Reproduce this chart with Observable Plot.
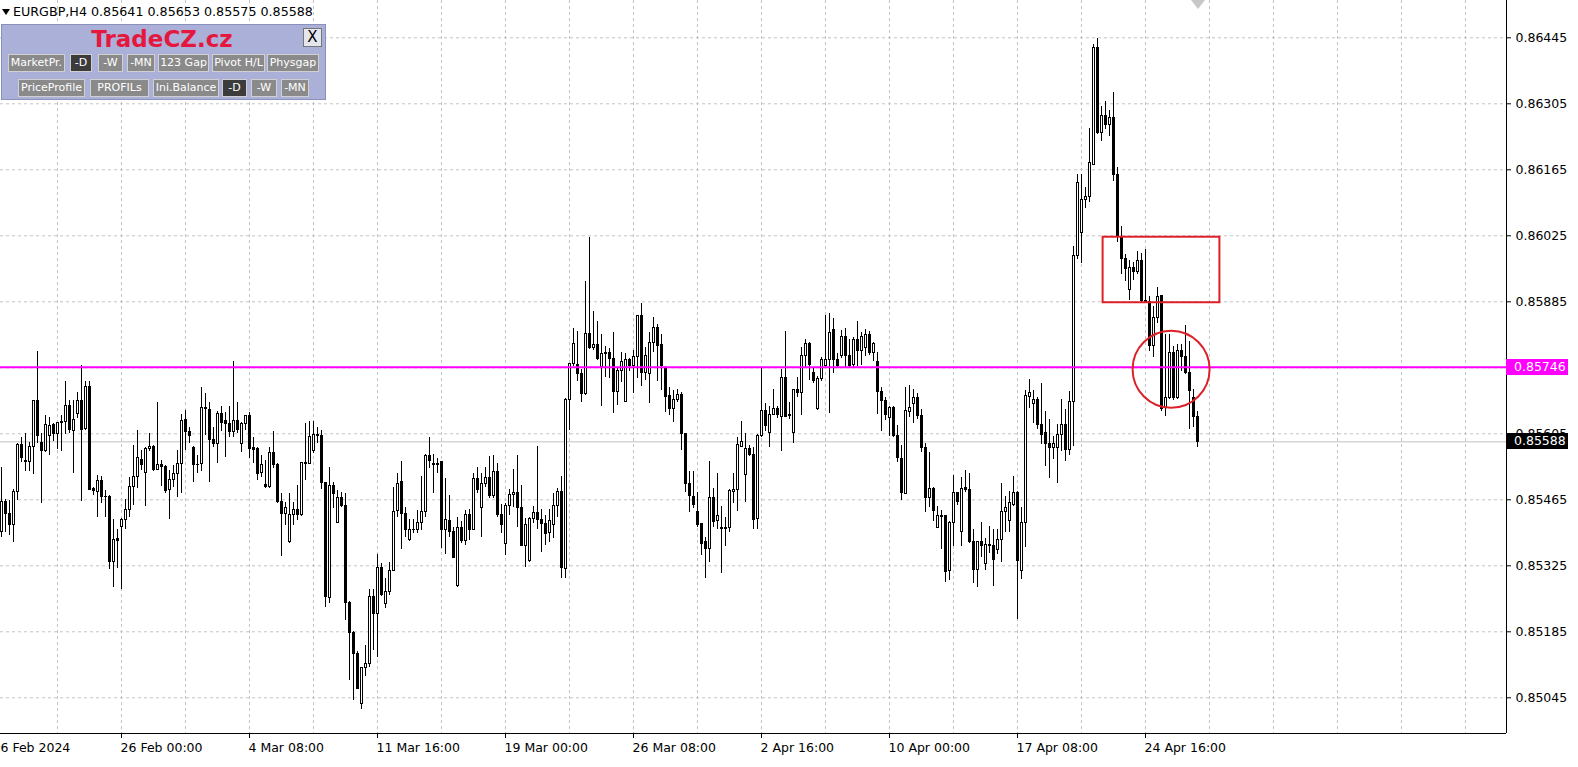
<!DOCTYPE html>
<html><head><meta charset="utf-8">
<script src="https://cdn.jsdelivr.net/npm/d3@7"></script>
<script src="https://cdn.jsdelivr.net/npm/@observablehq/plot@0.6"></script>
<style>
html,body{margin:0;padding:0;background:#fff;}
#wrap{position:relative;width:1578px;height:767px;overflow:hidden;font-family:"DejaVu Sans",sans-serif;}
#wrap svg{position:absolute;left:0;top:0;}
.ov{position:absolute;white-space:nowrap;}
#header{left:13px;top:4px;font-size:12.7px;color:#000;line-height:16px;}
#tri{left:2px;top:9px;width:0;height:0;border-left:4px solid transparent;border-right:4px solid transparent;border-top:6px solid #000;}
#shift{left:1191px;top:0px;width:0;height:0;border-left:7px solid transparent;border-right:7px solid transparent;border-top:9px solid #c8c8c8;}
#panel{left:1px;top:24px;width:325px;height:76px;background:#aab0d8;border:1px solid #8a90bc;box-sizing:border-box;}
#panel .brand{position:absolute;left:60px;top:1px;width:200px;text-align:center;font-weight:bold;font-size:23px;color:#e5173f;line-height:26px;}
#panel .xb{position:absolute;left:301px;top:3px;width:19px;height:19px;background:#e6e6ee;border:1px solid #777;box-sizing:border-box;font-size:15px;line-height:17px;text-align:center;color:#000;}
#panel .b{position:absolute;height:18px;background:#8a8a8a;border:1px solid #d0d0d0;box-sizing:border-box;color:#fff;font-size:11px;line-height:16px;text-align:center;overflow:hidden;}
#panel .b.d{background:#3c3c3c;}
.pbox{position:absolute;left:1506px;width:62px;height:16px;color:#fff;font-size:12.5px;line-height:16px;padding-left:8px;box-sizing:border-box;}
</style></head><body><div id="wrap"></div>
<script>
// ---- EURGBP H4 candles, bar 0 = Mon 19 Feb 2024 00:00 ----
const open = [
0.85396,0.85460,0.85435,0.85412,0.85481,0.85582,0.85548,0.85545,0.85577,0.85674,
0.85586,0.85568,0.85600,0.85623,0.85605,0.85628,0.85631,0.85663,0.85612,0.85647,
0.85674,0.85616,0.85704,0.85488,0.85481,0.85504,0.85472,0.85471,0.85333,0.85381,
0.85407,0.85423,0.85444,0.85493,0.85514,0.85550,0.85522,0.85572,0.85578,0.85529,
0.85539,0.85534,0.85486,0.85506,0.85520,0.85541,0.85635,0.85609,0.85575,0.85539,
0.85541,0.85660,0.85656,0.85592,0.85584,0.85646,0.85632,0.85625,0.85609,0.85632,
0.85584,0.85625,0.85642,0.85575,0.85573,0.85522,0.85497,0.85493,0.85565,0.85539,
0.85460,0.85435,0.85375,0.85433,0.85444,0.85432,0.85543,0.85542,0.85568,0.85603,
0.85600,0.85500,0.85257,0.85495,0.85416,0.85469,0.85452,0.85247,0.85183,0.85138,
0.85032,0.85109,0.85116,0.85259,0.85222,0.85321,0.85244,0.85269,0.85315,0.85442,
0.85502,0.85435,0.85379,0.85400,0.85401,0.85415,0.85440,0.85557,0.85541,0.85538,
0.85545,0.85400,0.85421,0.85396,0.85282,0.85406,0.85377,0.85432,0.85401,0.85510,
0.85448,0.85499,0.85512,0.85473,0.85524,0.85432,0.85372,0.85451,0.85476,0.85480,
0.85447,0.85366,0.85335,0.85425,0.85437,0.85423,0.85414,0.85395,0.85412,0.85452,
0.85481,0.85319,0.85677,0.85753,0.85752,0.85732,0.85690,0.85817,0.85787,0.85794,
0.85746,0.85775,0.85777,0.85764,0.85693,0.85739,0.85672,0.85762,0.85748,0.85768,
0.85854,0.85734,0.85732,0.85797,0.85830,0.85794,0.85744,0.85685,0.85657,0.85676,
0.85688,0.85604,0.85499,0.85471,0.85440,0.85413,0.85375,0.85361,0.85469,0.85420,
0.85406,0.85403,0.85406,0.85481,0.85486,0.85578,0.85518,0.85573,0.85561,0.85425,
0.85601,0.85654,0.85606,0.85645,0.85657,0.85640,0.85724,0.85645,0.85606,0.85697,
0.85691,0.85771,0.85796,0.85734,0.85658,0.85722,0.85748,0.85761,0.85826,0.85762,
0.85769,0.85811,0.85769,0.85751,0.85804,0.85780,0.85787,0.85814,0.85776,0.85758,
0.85693,0.85674,0.85639,0.85659,0.85601,0.85552,0.85478,0.85651,0.85669,0.85681,
0.85642,0.85575,0.85469,0.85487,0.85406,0.85428,0.85430,0.85315,0.85416,0.85479,
0.85396,0.85490,0.85486,0.85375,0.85317,0.85375,0.85329,0.85370,0.85366,0.85358,
0.85379,0.85439,0.85419,0.85453,0.85480,0.85315,0.85415,0.85684,0.85669,0.85677,
0.85624,0.85607,0.85583,0.85575,0.85575,0.85603,0.85624,0.85571,0.85672,0.85983,
0.86032,0.86101,0.86107,0.86176,0.86423,0.86243,0.86280,0.86260,0.86275,0.86155,
0.86021,0.85975,0.85909,0.85956,0.85949,0.85971,0.85886,0.85885,0.85791,0.85850,
0.85897,0.85660,0.85681,0.85777,0.85681,0.85780,0.85768,0.85734,0.85680,0.85641];
const high = [
0.85534,0.85465,0.85464,0.85486,0.85584,0.85597,0.85606,0.85587,0.85676,0.85780,
0.85605,0.85644,0.85639,0.85626,0.85630,0.85644,0.85716,0.85676,0.85676,0.85693,
0.85750,0.85715,0.85715,0.85492,0.85517,0.85514,0.85485,0.85474,0.85423,0.85403,
0.85425,0.85465,0.85513,0.85580,0.85612,0.85570,0.85577,0.85606,0.85580,0.85672,
0.85548,0.85538,0.85527,0.85538,0.85570,0.85647,0.85654,0.85619,0.85578,0.85560,
0.85703,0.85691,0.85672,0.85619,0.85652,0.85662,0.85651,0.85663,0.85759,0.85672,
0.85628,0.85644,0.85651,0.85597,0.85575,0.85559,0.85548,0.85577,0.85609,0.85541,
0.85478,0.85460,0.85479,0.85460,0.85495,0.85545,0.85626,0.85631,0.85631,0.85619,
0.85611,0.85502,0.85533,0.85502,0.85485,0.85481,0.85479,0.85249,0.85185,0.85144,
0.85110,0.85156,0.85274,0.85274,0.85350,0.85329,0.85297,0.85331,0.85492,0.85520,
0.85547,0.85449,0.85423,0.85423,0.85442,0.85515,0.85561,0.85597,0.85561,0.85552,
0.85546,0.85510,0.85474,0.85407,0.85427,0.85418,0.85442,0.85444,0.85520,0.85533,
0.85520,0.85533,0.85557,0.85559,0.85541,0.85455,0.85458,0.85486,0.85529,0.85559,
0.85495,0.85425,0.85427,0.85451,0.85578,0.85444,0.85432,0.85444,0.85479,0.85488,
0.85515,0.85679,0.85755,0.85828,0.85821,0.85741,0.85929,0.86022,0.85865,0.85844,
0.85815,0.85790,0.85787,0.85819,0.85743,0.85777,0.85775,0.85765,0.85782,0.85856,
0.85881,0.85789,0.85819,0.85851,0.85837,0.85815,0.85748,0.85704,0.85697,0.85700,
0.85692,0.85605,0.85524,0.85524,0.85481,0.85414,0.85386,0.85546,0.85488,0.85520,
0.85451,0.85427,0.85486,0.85520,0.85598,0.85632,0.85606,0.85580,0.85577,0.85603,
0.85746,0.85669,0.85663,0.85700,0.85662,0.85741,0.85822,0.85672,0.85698,0.85724,
0.85789,0.85804,0.85799,0.85743,0.85727,0.85766,0.85856,0.85861,0.85849,0.85775,
0.85824,0.85828,0.85804,0.85809,0.85844,0.85819,0.85826,0.85821,0.85799,0.85778,
0.85704,0.85683,0.85663,0.85662,0.85623,0.85580,0.85704,0.85708,0.85698,0.85690,
0.85656,0.85584,0.85566,0.85492,0.85451,0.85442,0.85432,0.85418,0.85517,0.85481,
0.85513,0.85527,0.85520,0.85401,0.85377,0.85416,0.85382,0.85409,0.85401,0.85401,
0.85499,0.85471,0.85483,0.85515,0.85482,0.85448,0.85696,0.85720,0.85696,0.85683,
0.85711,0.85653,0.85635,0.85600,0.85624,0.85677,0.85656,0.85695,0.86003,0.86155,
0.86155,0.86128,0.86253,0.86431,0.86443,0.86300,0.86310,0.86290,0.86330,0.86170,
0.86045,0.85985,0.85973,0.85968,0.85992,0.85987,0.85996,0.85897,0.85876,0.85916,
0.85898,0.85816,0.85816,0.85790,0.85794,0.85794,0.85835,0.85801,0.85700,0.85653];
const low = [
0.85384,0.85396,0.85389,0.85374,0.85464,0.85545,0.85524,0.85524,0.85518,0.85584,
0.85457,0.85566,0.85558,0.85589,0.85571,0.85568,0.85603,0.85605,0.85520,0.85637,
0.85462,0.85613,0.85485,0.85474,0.85428,0.85458,0.85428,0.85317,0.85280,0.85319,
0.85275,0.85403,0.85428,0.85453,0.85488,0.85527,0.85451,0.85568,0.85524,0.85527,
0.85493,0.85478,0.85423,0.85492,0.85469,0.85479,0.85570,0.85584,0.85502,0.85520,
0.85524,0.85601,0.85502,0.85577,0.85541,0.85609,0.85555,0.85597,0.85597,0.85605,
0.85566,0.85612,0.85552,0.85541,0.85507,0.85513,0.85490,0.85490,0.85531,0.85457,
0.85345,0.85411,0.85372,0.85411,0.85421,0.85430,0.85506,0.85540,0.85564,0.85584,
0.85486,0.85237,0.85244,0.85446,0.85414,0.85449,0.85209,0.85082,0.85039,0.85062,
0.85020,0.85091,0.85110,0.85145,0.85131,0.85259,0.85234,0.85262,0.85312,0.85427,
0.85359,0.85386,0.85377,0.85393,0.85393,0.85400,0.85427,0.85531,0.85479,0.85520,
0.85361,0.85348,0.85386,0.85340,0.85280,0.85373,0.85368,0.85379,0.85400,0.85479,
0.85386,0.85492,0.85467,0.85467,0.85428,0.85394,0.85347,0.85432,0.85449,0.85407,
0.85365,0.85321,0.85333,0.85414,0.85403,0.85354,0.85368,0.85375,0.85382,0.85428,
0.85297,0.85297,0.85613,0.85748,0.85715,0.85672,0.85686,0.85783,0.85782,0.85761,
0.85662,0.85725,0.85722,0.85649,0.85664,0.85713,0.85671,0.85737,0.85690,0.85722,
0.85706,0.85718,0.85669,0.85777,0.85716,0.85697,0.85650,0.85644,0.85628,0.85672,
0.85570,0.85480,0.85439,0.85446,0.85407,0.85347,0.85297,0.85333,0.85407,0.85403,
0.85309,0.85366,0.85396,0.85458,0.85441,0.85577,0.85460,0.85557,0.85401,0.85403,
0.85598,0.85609,0.85575,0.85644,0.85637,0.85568,0.85639,0.85635,0.85585,0.85683,
0.85644,0.85746,0.85718,0.85711,0.85654,0.85715,0.85745,0.85649,0.85732,0.85743,
0.85764,0.85746,0.85746,0.85743,0.85748,0.85750,0.85768,0.85771,0.85759,0.85647,
0.85610,0.85633,0.85599,0.85598,0.85545,0.85464,0.85476,0.85640,0.85626,0.85635,
0.85566,0.85439,0.85449,0.85418,0.85404,0.85359,0.85290,0.85294,0.85365,0.85453,
0.85365,0.85481,0.85373,0.85287,0.85280,0.85343,0.85315,0.85352,0.85282,0.85350,
0.85331,0.85395,0.85395,0.85451,0.85211,0.85295,0.85363,0.85659,0.85627,0.85615,
0.85583,0.85536,0.85511,0.85551,0.85499,0.85567,0.85547,0.85560,0.85579,0.85975,
0.85967,0.86083,0.86095,0.86176,0.86239,0.86225,0.86250,0.86235,0.86140,0.86010,
0.85943,0.85929,0.85888,0.85930,0.85943,0.85883,0.85883,0.85780,0.85766,0.85840,
0.85653,0.85642,0.85678,0.85675,0.85678,0.85738,0.85731,0.85614,0.85618,0.85575];
const close = [
0.85460,0.85435,0.85412,0.85481,0.85582,0.85553,0.85545,0.85577,0.85674,0.85601,
0.85568,0.85623,0.85621,0.85605,0.85628,0.85631,0.85665,0.85614,0.85635,0.85674,
0.85613,0.85704,0.85486,0.85483,0.85504,0.85472,0.85471,0.85333,0.85379,0.85377,
0.85423,0.85444,0.85493,0.85514,0.85554,0.85538,0.85572,0.85578,0.85529,0.85538,
0.85534,0.85483,0.85506,0.85520,0.85541,0.85633,0.85609,0.85601,0.85539,0.85538,
0.85660,0.85657,0.85592,0.85584,0.85647,0.85628,0.85625,0.85609,0.85632,0.85614,
0.85625,0.85642,0.85573,0.85571,0.85520,0.85538,0.85493,0.85565,0.85539,0.85460,
0.85435,0.85448,0.85433,0.85444,0.85433,0.85543,0.85542,0.85599,0.85603,0.85600,
0.85500,0.85259,0.85495,0.85478,0.85469,0.85452,0.85247,0.85183,0.85138,0.85063,
0.85109,0.85116,0.85259,0.85222,0.85321,0.85262,0.85269,0.85315,0.85439,0.85499,
0.85435,0.85401,0.85400,0.85401,0.85415,0.85440,0.85557,0.85548,0.85538,0.85541,
0.85400,0.85423,0.85396,0.85341,0.85406,0.85377,0.85432,0.85401,0.85510,0.85486,
0.85499,0.85512,0.85473,0.85524,0.85432,0.85411,0.85451,0.85476,0.85480,0.85447,
0.85366,0.85412,0.85425,0.85437,0.85423,0.85414,0.85393,0.85420,0.85452,0.85481,
0.85321,0.85677,0.85753,0.85796,0.85732,0.85690,0.85817,0.85787,0.85794,0.85764,
0.85775,0.85777,0.85764,0.85693,0.85739,0.85758,0.85762,0.85748,0.85768,0.85854,
0.85734,0.85771,0.85797,0.85830,0.85791,0.85748,0.85683,0.85657,0.85676,0.85688,
0.85605,0.85499,0.85473,0.85455,0.85412,0.85372,0.85361,0.85469,0.85418,0.85430,
0.85403,0.85406,0.85483,0.85486,0.85582,0.85587,0.85572,0.85561,0.85423,0.85601,
0.85654,0.85621,0.85645,0.85658,0.85644,0.85724,0.85640,0.85642,0.85697,0.85692,
0.85771,0.85796,0.85750,0.85718,0.85722,0.85761,0.85761,0.85819,0.85761,0.85748,
0.85811,0.85769,0.85748,0.85804,0.85780,0.85810,0.85814,0.85776,0.85796,0.85693,
0.85674,0.85644,0.85659,0.85601,0.85553,0.85479,0.85654,0.85660,0.85681,0.85642,
0.85575,0.85469,0.85487,0.85441,0.85430,0.85430,0.85312,0.85416,0.85479,0.85461,
0.85488,0.85486,0.85375,0.85317,0.85375,0.85366,0.85370,0.85366,0.85338,0.85380,
0.85440,0.85448,0.85459,0.85480,0.85336,0.85416,0.85685,0.85692,0.85677,0.85623,
0.85603,0.85583,0.85575,0.85583,0.85603,0.85624,0.85571,0.85672,0.85983,0.86136,
0.86101,0.86107,0.86179,0.86423,0.86243,0.86280,0.86260,0.86275,0.86155,0.86025,
0.85975,0.85954,0.85956,0.85949,0.85971,0.85886,0.85885,0.85791,0.85850,0.85895,
0.85657,0.85680,0.85777,0.85681,0.85780,0.85768,0.85734,0.85695,0.85641,0.85588];

// axis ticks and labels
const priceTicks = [0.85045,0.85185,0.85325,0.85465,0.85605,0.85745,0.85885,0.86025,0.86165,0.86305,0.86445];
const timeTickBars = [-2,30,62,94,126,158,190,222,254,286];
const timeTickLabels = ["16 Feb 2024","26 Feb 00:00","4 Mar 08:00","11 Mar 16:00","19 Mar 00:00","26 Mar 08:00","2 Apr 16:00","10 Apr 00:00","17 Apr 08:00","24 Apr 16:00"];
// annotations
const levelPrice = [0.85746];       // magenta horizontal line
const lastPrice = [0.85588];        // bid line
const zoneBox = [{fromBar: 275.4, toBar: 304.6, top: 0.86022, bottom: 0.85883}];
const zoneCircle = [{bar: 292.4, price: 0.85742}];
const header = "EURGBP,H4  0.85641 0.85653 0.85575 0.85588";

const bars = open.map((o, i) => ({i, o, c: close[i], h: Math.max(high[i], o, close[i]), l: Math.min(low[i], o, close[i])}));
const gridBars = d3.range(-2, 380, 16);
const RED = "#dc2027";

const chart = Plot.plot({
  width: 1578, height: 767,
  marginTop: 0, marginLeft: 0, marginRight: 72, marginBottom: 34,
  style: {fontFamily: "DejaVu Sans, sans-serif", fontSize: "12.5px", color: "#000", background: "#fff"},
  x: {domain: [-0.25, 376.25], axis: "bottom", ticks: timeTickBars, tickSize: 5, tickFormat: () => "", label: null},
  y: {domain: [0.8496927, 0.8652413], axis: "right", ticks: priceTicks, tickSize: 4, tickPadding: 5, tickFormat: d => d.toFixed(5), label: null},
  marks: [
    Plot.ruleX(gridBars, {stroke: "#c4c4c4", strokeDasharray: "3,3"}),
    Plot.ruleY(priceTicks, {stroke: "#c4c4c4", strokeDasharray: "3,3"}),
    Plot.ruleY(lastPrice, {stroke: "#c0c0c0"}),
    Plot.ruleX(bars, {x: "i", y1: "l", y2: "h", stroke: "#000", shapeRendering: "crispEdges"}),
    Plot.rect(bars, {x1: d => d.i - 0.125, x2: d => d.i + 0.375, y1: "o", y2: "c", fill: d => d.c >= d.o ? "#fff" : "#000", stroke: "#000", strokeWidth: 1, shapeRendering: "crispEdges"}),
    Plot.ruleY(levelPrice, {stroke: "#ff00ff", strokeWidth: 2}),
    Plot.rect(zoneBox, {x1: "fromBar", x2: "toBar", y1: "bottom", y2: "top", fill: "none", stroke: RED, strokeWidth: 2}),
    Plot.dot(zoneCircle, {x: "bar", y: "price", r: 38.5, fill: "none", stroke: RED, strokeWidth: 2}),
    Plot.ruleX([376.25], {stroke: "#000"}),
    Plot.ruleY([0.8496927], {stroke: "#000"}),
    Plot.text(timeTickLabels, {x: (d, i) => timeTickBars[i], text: d => d, frameAnchor: "bottom", textAnchor: "start", dy: 18, dx: -1})
  ]
});
const wrap = document.getElementById("wrap");
wrap.appendChild(chart);

const ys = chart.scale("y");
const yf = ys.apply ? (v => ys.apply(v)) : d3.scaleLinear(ys.domain, ys.range);

function ov(id, html) { const d = document.createElement("div"); d.className = "ov"; d.id = id; if (html) d.innerHTML = html; wrap.appendChild(d); return d; }
ov("tri");
ov("header").textContent = header;
ov("shift");

function pbox(v, bg) {
  const d = document.createElement("div");
  d.className = "pbox"; d.style.background = bg; d.style.top = (yf(v) - 8) + "px";
  d.textContent = v.toFixed(5); wrap.appendChild(d);
}
pbox(levelPrice[0], "#ff00ff");
pbox(lastPrice[0], "#000");

const panel = ov("panel");
panel.innerHTML = '<div class="brand">TradeCZ.cz</div><div class="xb">X</div>';
const buttons = [
  ["MarketPr.",6,29,57,0],["-D",68,29,22,1],["-W",96,29,25,0],["-MN",125,29,28,0],["123 Gap",156,29,51,0],["Pivot H/L",210,29,53,0],["Physgap",265,29,52,0],
  ["PriceProfile",16,54,67,0],["PROFILs",88,54,59,0],["Ini.Balance",151,54,66,0],["-D",220,54,25,1],["-W",249,54,26,0],["-MN",279,54,28,0]
];
for (const [t,l,tp,w,dk] of buttons) {
  const b = document.createElement("div");
  b.className = "b" + (dk ? " d" : "");
  b.style.left = l + "px"; b.style.top = tp + "px"; b.style.width = w + "px";
  b.textContent = t; panel.appendChild(b);
}
</script></body></html>
